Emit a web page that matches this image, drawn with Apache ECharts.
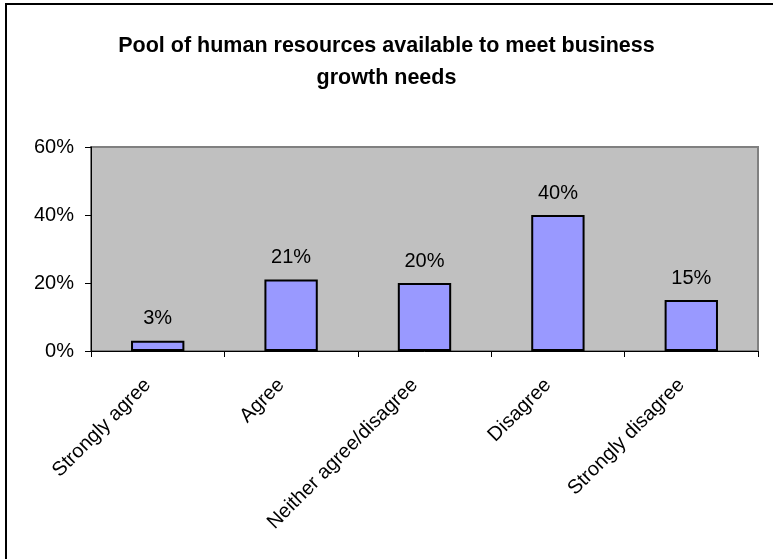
<!DOCTYPE html>
<html>
<head>
<meta charset="utf-8">
<script src="https://cdn.jsdelivr.net/npm/echarts@6/dist/echarts.min.js"></script>
<style>
  html, body { margin: 0; padding: 0; background: #fff; }
  #chart { width: 773px; height: 559px; }
</style>
</head>
<body>
<div id="chart"></div>
<script>
// Survey responses: share of respondents per answer
const categories = ['Strongly agree', 'Agree', 'Neither agree/disagree', 'Disagree', 'Strongly disagree'];
const shares = [3, 21, 20, 40, 15];
const yTicks = { min: 0, max: 60, interval: 20 };

const FONT = 'Arial, "Liberation Sans", sans-serif';

const chart = echarts.init(document.getElementById('chart'));
chart.setOption({
  animation: false,
  backgroundColor: '#ffffff',
  title: {
    text: 'Pool of human resources available to meet business\ngrowth needs',
    left: 'center',
    top: 25,
    textStyle: {
      fontFamily: FONT,
      fontWeight: 'bold',
      fontSize: 21.5,
      lineHeight: 32,
      color: '#000'
    }
  },
  graphic: [{
    type: 'rect',
    shape: { x: 6, y: 4, width: 800, height: 600 },
    style: { fill: 'none', stroke: '#000', lineWidth: 2 },
    silent: true,
    z: 100
  }],
  grid: {
    left: 91, top: 147, right: 15, bottom: 208,
    show: true,
    backgroundColor: '#C0C0C0',
    borderColor: '#808080',
    borderWidth: 2
  },
  xAxis: {
    type: 'category',
    data: categories,
    axisLine: { lineStyle: { color: '#000', width: 1 } },
    axisTick: { show: true, length: 6, lineStyle: { color: '#000' } },
    axisLabel: {
      rotate: 45,
      interval: 0,
      margin: 21,
      padding: [0, 14, 0, 0],
      fontFamily: FONT,
      fontSize: 20,
      color: '#000'
    }
  },
  yAxis: {
    type: 'value',
    min: yTicks.min,
    max: yTicks.max,
    interval: yTicks.interval,
    axisLine: { show: true, lineStyle: { color: '#000', width: 1 } },
    axisTick: { show: true, length: 6, lineStyle: { color: '#000' } },
    splitLine: { show: false },
    axisLabel: {
      formatter: '{value}%',
      margin: 17,
      fontFamily: FONT,
      fontSize: 20,
      color: '#000'
    }
  },
  series: [{
    type: 'bar',
    data: shares,
    barWidth: '40%',
    itemStyle: { color: '#9999FF', borderColor: '#000', borderWidth: 2 },
    label: {
      show: true,
      position: 'top',
      distance: 12,
      formatter: '{c}%',
      fontFamily: FONT,
      fontSize: 20,
      color: '#000'
    }
  }]
});
</script>
</body>
</html>
